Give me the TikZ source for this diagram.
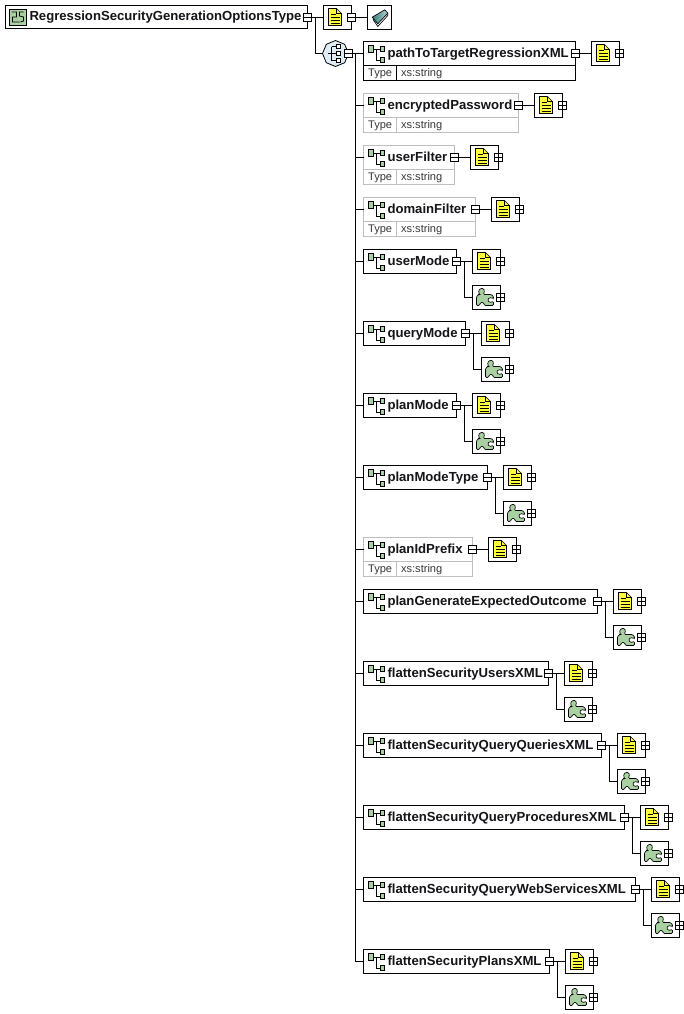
\documentclass[tikz,border=0pt]{standalone}
\usepackage{fontspec}
\setmainfont{Liberation Sans}
\usetikzlibrary{arrows.meta,positioning,shapes.geometric,calc}
\definecolor{myink}{RGB}{20,20,25}
\definecolor{mygray}{RGB}{190,190,190}
\definecolor{mygreen}{RGB}{168,208,160}
\definecolor{myyellow}{RGB}{255,255,60}
\definecolor{myblue}{RGB}{222,236,246}
\definecolor{myteal}{RGB}{50,125,125}
\def\px{.75pt}
\tikzset{
    conn/.style   = {line width=.75pt, draw=black},
    titleBox/.style = {draw=black, line width=.75pt, fill=white, anchor=west, outer sep=0pt, inner sep=0pt,
            text width=(#1)*\px, minimum height=24*\px, align=left, text height=7.7pt, text depth=2pt,
            text=myink, font=\fontsize{9.85}{12}\selectfont\bfseries,
            execute at begin node={\hspace*{18pt}}},
    opt/.style    = {draw=mygray},
    elemIcon/.pic = {
        \draw[line width=.5pt] (7,-4.5) -- (18,-4.5) (12.5,-4.5) |- (18,6.5);
        \draw[line width=.5pt, fill=mygreen] (4.5,-8) rectangle (9.5,-1);
        \draw[line width=.5pt, fill=mygreen] (17,-7.5) rectangle (21,-2);
        \draw[line width=.5pt, fill=mygreen] (17,3.5) rectangle (21,9);
    },
    rootIcon/.pic = {
        \draw[line width=.6pt, fill=mygreen] (4,-8) rectangle (20.5,8);
        \draw[line width=.6pt] (6,-5) -- (11,-5) -- (11,0) -- (7,0) -- (7,5) -- (14,5)
            (18,-5) -- (14,-5) -- (14,-1) -- (18,0) -- (18,4) -- (15,5);
    },
    typeCell/.style = {draw=black, line width=.75pt, fill=white, anchor=north west, outer sep=0pt, inner sep=0pt,
            text width=(#1)*\px, minimum height=15*\px, align=left, text height=7.4pt, text depth=1.8pt,
            text=myink!85, font=\fontsize{8.3}{10}\selectfont,
            execute at begin node={\hspace*{3.45pt}}},
    collapseBox/.style = {draw=black, line width=.75pt, fill=white, minimum size=8*\px, inner sep=0pt, outer sep=0pt,
            path picture={\draw[line width=.75pt] (path picture bounding box.west) -- (path picture bounding box.east);}},
    expandBox/.style = {collapseBox,
            path picture={\draw[line width=.75pt] (path picture bounding box.west) -- (path picture bounding box.east)
                (path picture bounding box.north) -- (path picture bounding box.south);}},
    iconBox/.style = {draw=black, line width=.75pt, fill=white, minimum width=28*\px, minimum height=24*\px,
            inner sep=0pt, outer sep=0pt},
    docBox/.style = {iconBox,
            path picture={
                \begin{scope}[shift={(path picture bounding box.center)}, line width=.5pt]
                    \draw[fill=myyellow] (-9,-9) -- (-1,-9) -- (4,-4) -- (4,8) -- (-9,8) -- cycle;
                    \draw (-1,-9) -- (-1,-4) -- (4,-4);
                    \draw (-7,-3) -- (-2,-3) (-7,0) -- (2,0) (-7,3) -- (2,3) (-7,6) -- (2,6);
                \end{scope}}},
    puzzleBox/.style = {iconBox,
            path picture={
                \begin{scope}[shift={(path picture bounding box.center)}, line width=.5pt]
                    \draw[fill=mygreen, rounded corners=.8pt] (-10,8) -- (-10,-1) -- (-8,-3) -- (-7,-3) -- (-8,-7) -- (-6,-9) -- (-3,-9) -- (-2,-7)
                        -- (-3,-3) -- (5,-3) -- (7,-1) -- (7,1) -- (3,0) -- (1,2.5) -- (3,5) -- (7,4) -- (7,8)
                        -- (-2,8) -- (-3,5) -- (-6,5) -- (-7,8) -- cycle;
                \end{scope}}},
    bookBox/.style = {iconBox, minimum width=24*\px,
            path picture={
                \begin{scope}[shift={(path picture bounding box.center)}, line width=.5pt]
                    \draw[fill=white] (-6.3,2.3) -- (-1.7,9) -- (8.3,-2) -- (8.3,-4.3) -- cycle;
                    \draw[left color=myteal, right color=myteal!35] (-7.3,-.3) -- (5.3,-7.7) -- (8.3,-4.3) -- (-1.7,6.3) -- cycle;
                \end{scope}}},
    seqNode/.style = {regular polygon, regular polygon sides=8, shape border rotate=22.5, minimum size=26*\px,
            draw=black, line width=.6pt, fill=myblue, inner sep=0pt, outer sep=0pt,
            path picture={
                \begin{scope}[shift={(path picture bounding box.center)}, line width=.5pt]
                    \draw (-8,0) -- (-4,0) (-4,-7) -- (-4,7) (-4,-7) -- (2,-7) (-4,7) -- (2,7);
                    \draw (-4,0) -- (1,0);
                    \draw[fill=white] (1,-9) rectangle (5,-5);
                    \draw[fill=white] (1,-2) rectangle (5,2);
                    \draw[fill=white] (1,5) rectangle (5,9);
                \end{scope}}},
}
% one row of the sequence: link from the spine, annotation box and its plus
\newcommand{\docPart}[1]{
    \pic at (#1Box.west) {elemIcon};
    \draw[conn] (spine |- #1Box.west) -- (#1Box.west);
    \node[collapseBox] (#1Minus) at (#1Box.east) {};
    \node[docBox, right=of #1Box] (#1Doc) {};
    \node[expandBox] (#1Plus) at (#1Doc.east) {};
    \draw[conn] (#1Minus) -- (#1Doc);
}
\newcommand{\typePart}[3][]{
    \node[typeCell=33, #1] (#2Type) at (#2Box.south west) {Type};
    \node[typeCell=#3-33, #1] (#2Val) at (#2Type.north east) {xs:string};
}
\newcommand{\facetPart}[1]{
    \node[puzzleBox, below=of #1Doc] (#1Facet) {};
    \node[expandBox] (#1More) at (#1Facet.east) {};
    \draw[conn] (#1Minus.east) -- ++(4,0) |- (#1Facet.west);
}
\begin{document}
\begin{tikzpicture}[x=.75pt, y=-.75pt, node distance=9pt and 12pt]
    \useasboundingbox (0,0) rectangle (684,1014);
    % Root
    \node[titleBox=302, minimum height=23*\px] (rootBox) at (5.5,17) {RegressionSecurityGenerationOptionsType};
    \pic at (rootBox.west) {rootIcon};
    \node[docBox] (rootDoc) at (337.5,17.5) {};
    \node[collapseBox] (rootMinus) at (rootBox.east |- rootDoc.center) {};
    \node[collapseBox] (rootDocMinus) at (rootDoc.east) {};
    \node[bookBox, right=of rootDoc] (rootBook) {};
    \node[seqNode] (seq) at (335.5,53.5) {};
    \node[collapseBox] (seqMinus) at (seq.east) {};
    \draw[conn] (rootMinus) -- (rootDoc);
    \draw[conn] (rootDocMinus) -- (rootBook);
    \draw[conn] (rootMinus.east) -- ++(4,0) |- (seq.west);
    \coordinate (spine) at (355.5,53.5);

    % Rows
    \node[titleBox=212] (pathToBox) at (363.5,53.5) {pathToTargetRegressionXML};
    \typePart{pathTo}{212}
    \docPart{pathTo}
    \node[titleBox=155, opt] (encryptedBox) at (363.5,105.5) {encryptedPassword};
    \typePart[opt]{encrypted}{155}
    \docPart{encrypted}
    \node[titleBox=91, opt] (userFilterBox) at (363.5,157.5) {userFilter};
    \typePart[opt]{userFilter}{91}
    \docPart{userFilter}
    \node[titleBox=112, opt] (domainFilterBox) at (363.5,209.5) {domainFilter};
    \typePart[opt]{domainFilter}{112}
    \docPart{domainFilter}
    \node[titleBox=93] (userModeBox) at (363.5,261.5) {userMode};
    \docPart{userMode}
    \facetPart{userMode}
    \node[titleBox=102] (queryModeBox) at (363.5,333.5) {queryMode};
    \docPart{queryMode}
    \facetPart{queryMode}
    \node[titleBox=93] (planModeBox) at (363.5,405.5) {planMode};
    \docPart{planMode}
    \facetPart{planMode}
    \node[titleBox=124] (planTypeBox) at (363.5,477.5) {planModeType};
    \docPart{planType}
    \facetPart{planType}
    \node[titleBox=109, opt] (planIdBox) at (363.5,549.5) {planIdPrefix};
    \typePart[opt]{planId}{109}
    \docPart{planId}
    \node[titleBox=234] (planGenBox) at (363.5,601.5) {planGenerateExpectedOutcome};
    \docPart{planGen}
    \facetPart{planGen}
    \node[titleBox=185] (usersBox) at (363.5,673.5) {flattenSecurityUsersXML};
    \docPart{users}
    \facetPart{users}
    \node[titleBox=238] (queriesBox) at (363.5,745.5) {flattenSecurityQueryQueriesXML};
    \docPart{queries}
    \facetPart{queries}
    \node[titleBox=261] (procsBox) at (363.5,817.5) {flattenSecurityQueryProceduresXML};
    \docPart{procs}
    \facetPart{procs}
    \node[titleBox=272] (servicesBox) at (363.5,889.5) {flattenSecurityQueryWebServicesXML};
    \docPart{services}
    \facetPart{services}
    \node[titleBox=186] (plansBox) at (363.5,961.5) {flattenSecurityPlansXML};
    \docPart{plans}
    \facetPart{plans}

    % Spine
    \draw[conn] (seqMinus) -- (pathToBox);
    \draw[conn] (spine) -- (spine |- plansBox.west);
\end{tikzpicture}
\end{document}
